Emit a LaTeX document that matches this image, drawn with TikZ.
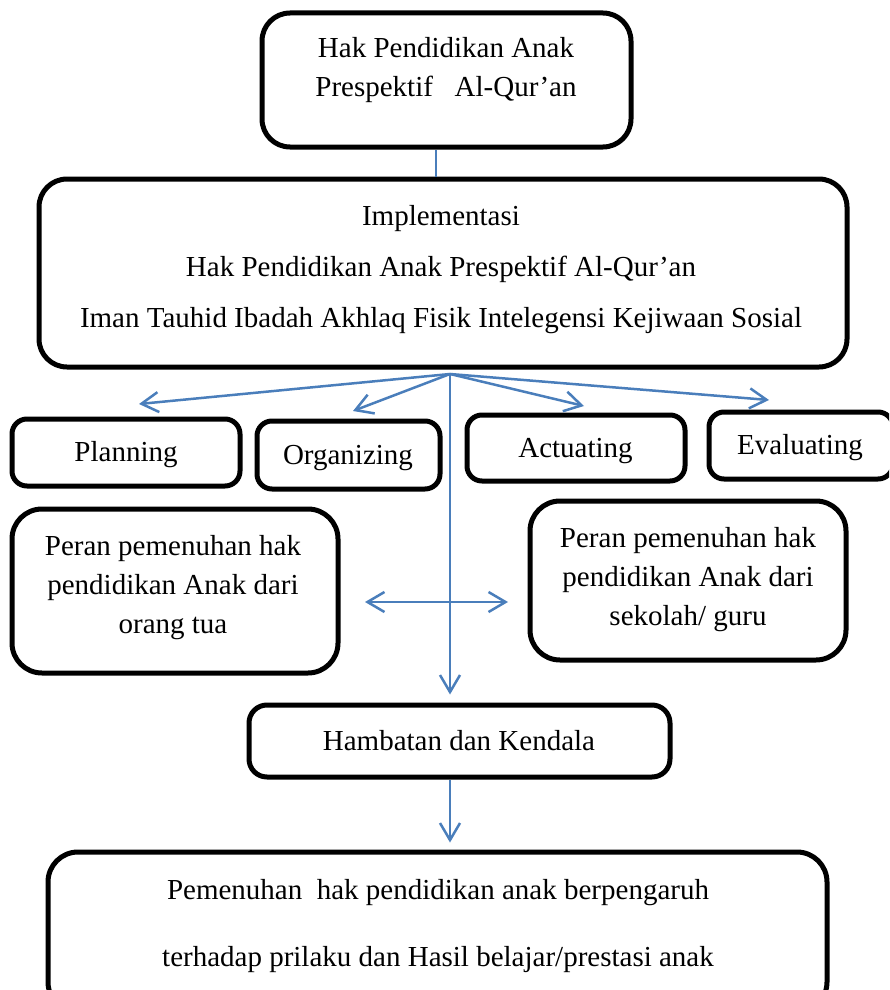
\documentclass[tikz,border=0pt]{standalone}
\usepackage{fontspec}
\setmainfont{Liberation Serif}
\usetikzlibrary{arrows.meta,calc}
\definecolor{lineblue}{HTML}{4A7EBB}
\begin{document}
\begin{tikzpicture}[x=1pt,y=-1pt,
  box/.style={draw=black,line width=5pt,rounded corners=#1,inner sep=0pt},
  box/.default=28pt,
  txt/.style={inner sep=0pt,yshift=-3pt,font=\fontsize{29}{39}\selectfont,align=center},
  conn/.style={draw=lineblue,line width=2.5pt},
  arr/.style={conn,-{Straight Barb[length=17pt,width=20pt,line width=2.5pt]}},
]
\useasboundingbox (0,0) rectangle (889,990);
\clip (0,0) rectangle (889,990);

% boxes
\node[box,minimum width=369pt,minimum height=134pt] (top) at (446.5,80) {};
\node[box,minimum width=808pt,minimum height=188pt] (big) at (443,273) {};
\node[box=15pt,minimum width=228pt,minimum height=67pt] (plan) at (126,452.5) {};
\node[box=15pt,minimum width=183pt,minimum height=68pt] (org) at (348.5,455) {};
\node[box=15pt,minimum width=218pt,minimum height=66pt] (act) at (576,448) {};
\node[box=15pt,minimum width=184pt,minimum height=67pt] (eva) at (801,445.5) {};
\node[box=30pt,minimum width=326pt,minimum height=164pt] (ortu) at (175,591) {};
\node[box=30pt,minimum width=316pt,minimum height=159pt] (sek) at (688,580.5) {};
\node[box=18pt,minimum width=421pt,minimum height=72pt] (hamb) at (459.5,741) {};
\node[box=30pt,minimum width=779pt,minimum height=160pt] (bot) at (437.5,932) {};

% texts
\node[txt] (topT) at (446,67.5) {Hak Pendidikan Anak\\Prespektif\ \ \ Al-Qur’an};
\node[txt,font=\fontsize{29}{51}\selectfont] (bigT) at (441,267) {Implementasi\\Hak Pendidikan Anak Prespektif Al-Qur’an\\Iman Tauhid Ibadah Akhlaq Fisik Intelegensi Kejiwaan Sosial};
\node[txt] (planT) at (126,452) {Planning};
\node[txt] (orgT) at (348,455) {Organizing};
\node[txt] (actT) at (575.5,448) {Actuating};
\node[txt] (evaT) at (800,445) {Evaluating};
\node[txt] (ortuT) at (173,585) {Peran pemenuhan hak\\pendidikan Anak dari\\orang tua};
\node[txt] (sekT) at (688,577) {Peran pemenuhan hak\\pendidikan Anak dari\\sekolah/ guru};
\node[txt] (hambT) at (459,738) {Hambatan dan Kendala};
\node[txt,font=\fontsize{29}{67}\selectfont] (botT) at (438,923.5) {Pemenuhan\ \ hak pendidikan anak berpengaruh\\terhadap prilaku dan Hasil belajar/prestasi anak};

% connectors
\coordinate (tx) at (436,0);
\coordinate (o) at (450,374);
\coordinate (pA) at (139,404);
\coordinate (oA) at (353,411);
\coordinate (aA) at (584,406);
\coordinate (eA) at (769,400);
\coordinate (hL) at (365,602);
\coordinate (hR) at (508,602);

\draw[conn] (tx |- top.south) -- (tx |- big.north);
\draw[arr] (o) -- (pA);
\draw[arr] (o) -- (oA);
\draw[arr] (o) -- (aA);
\draw[arr] (o) -- (eA);
\draw[arr,shorten >=8pt] (o) -- (o |- hamb.north);
\draw[conn,{Straight Barb[length=17pt,width=20pt,line width=2.5pt]}-{Straight Barb[length=17pt,width=20pt,line width=2.5pt]}] (hL) -- (hR);
\draw[arr,shorten >=7pt] (o |- hamb.south) -- (o |- bot.north);
\end{tikzpicture}
\end{document}
